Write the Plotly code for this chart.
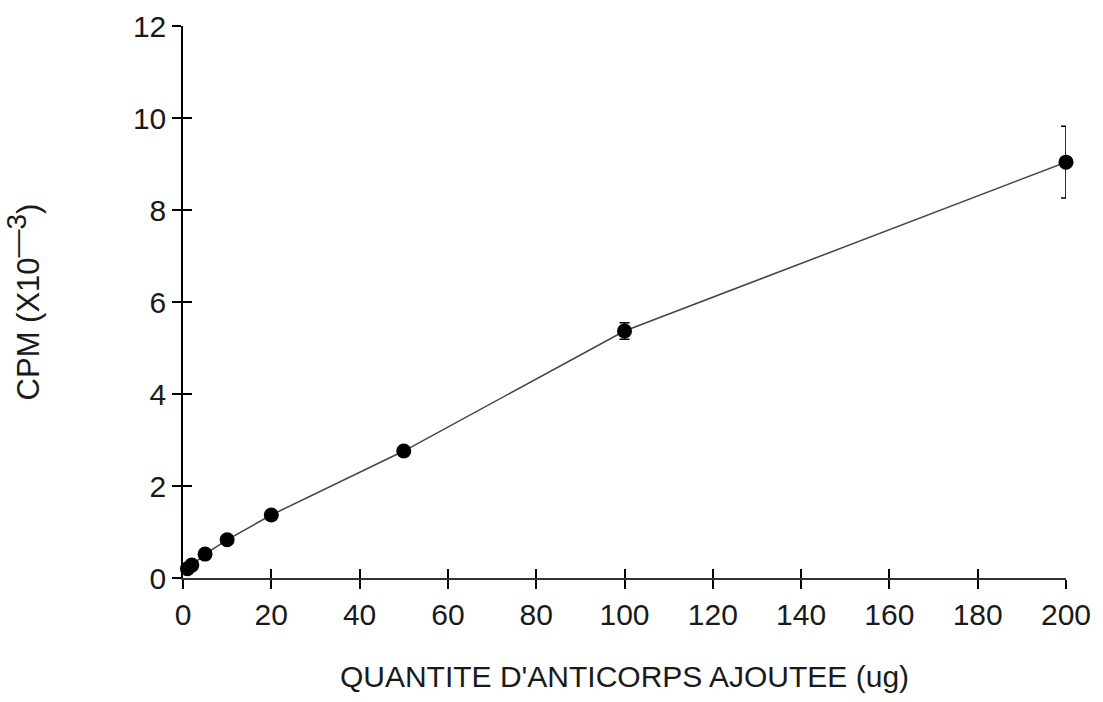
import plotly.graph_objects as go

# Antibody dose (ug) and measured counts (CPM x 10^-3)
quantite_ug = [1, 2, 5, 10, 20, 50, 100, 200]
cpm_e3 = [0.20, 0.28, 0.52, 0.83, 1.37, 2.76, 5.37, 9.04]
cpm_err = [0, 0, 0, 0, 0, 0, 0.18, 0.78]

x_ticks = [0, 20, 40, 60, 80, 100, 120, 140, 160, 180, 200]
y_ticks = [0, 2, 4, 6, 8, 10, 12]

FONT = "Liberation Sans, Arial, sans-serif"
INK = "#1a1a1a"

fig = go.Figure()

fig.add_trace(go.Scatter(
    x=quantite_ug, y=cpm_e3,
    mode="lines+markers",
    line=dict(color="#444444", width=1.5),
    marker=dict(color="black", size=15),
    error_y=dict(type="data", array=cpm_err, visible=True,
                 color="black", thickness=1.6, width=5),
    cliponaxis=False,
    showlegend=False,
))

# empty trace so the overlay axes (inner half of crossing ticks) are drawn
fig.add_trace(go.Scatter(x=[], y=[], xaxis="x2", yaxis="y2", showlegend=False))

axis_common = dict(
    showgrid=False, zeroline=False,
    tickfont=dict(family=FONT, size=30, color=INK),
    tickcolor="black", tickwidth=1.5, ticklen=9,
)
tick_only = {k: v for k, v in axis_common.items() if k != "tickfont"}

fig.update_layout(
    width=1103, height=702,
    margin=dict(l=183, r=37, t=26, b=124),
    paper_bgcolor="white", plot_bgcolor="white",
    font=dict(family=FONT, size=30, color=INK),
    xaxis=dict(
        range=[0, 200], tickvals=x_ticks, ticks="outside",
        showline=True, linecolor="#333", linewidth=1.5,
        title=dict(text="QUANTITE D'ANTICORPS AJOUTEE (ug)",
                   font=dict(family=FONT, size=30, color=INK), standoff=36),
        automargin=False,
        **axis_common,
    ),
    yaxis=dict(
        range=[0, 12], tickvals=y_ticks, ticks="outside",
        showline=True, linecolor="black", linewidth=1.5,
        title=dict(text="CPM (X10<sup><span style='font-size:28px'>—3</span></sup>)",
                   font=dict(family=FONT, size=31, color=INK), standoff=84),
        automargin=False,
        **axis_common,
    ),
    xaxis2=dict(
        range=[0, 200], tickvals=x_ticks, ticks="inside",
        overlaying="x", anchor="y2", showticklabels=False,
        showline=False, **tick_only,
    ),
    yaxis2=dict(
        range=[0, 12], tickvals=y_ticks, ticks="inside",
        overlaying="y", anchor="x2", side="left", showticklabels=False,
        showline=False, **tick_only,
    ),
)

fig.write_html("out.html")
